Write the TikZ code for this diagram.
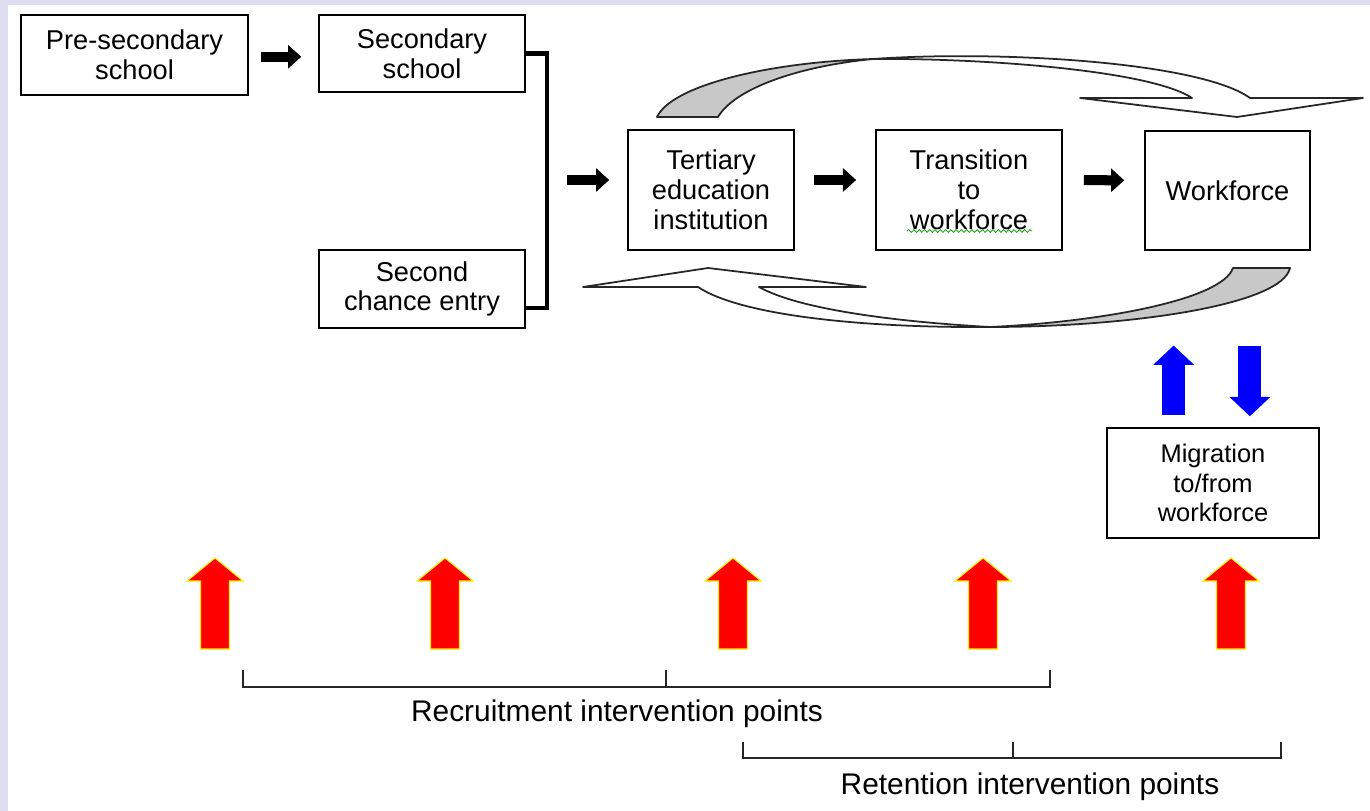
\documentclass[tikz,border=0pt]{standalone}
\usepackage{fontspec}
\setmainfont{Liberation Sans}
\usetikzlibrary{arrows.meta,decorations.pathmorphing}

\definecolor{pagebg}{RGB}{221,223,240}
\definecolor{ribbongrey}{RGB}{200,200,200}

\begin{document}
\begin{tikzpicture}[x=0.02cm, y=-0.02cm,
  box/.style={draw, line width=1pt, align=center, inner sep=0pt, font=\fontsize{15.5pt}{17pt}\selectfont},
  blk/.style={line width=5.7pt, -{Triangle[length=7.5pt, width=13pt]}},
  bluearr/.style={blue, line width=13pt, -{Triangle[length=11pt, width=22.7pt]}},
  redarr/.style={fill=red, draw=yellow, line width=0.6pt, line join=miter},
  ribbon/.style={draw=black!85, line width=1pt, line join=round},
  bracketline/.style={draw=black!85, line width=1.1pt},
  bracetext/.style={font=\fontsize{17pt}{20pt}\selectfont}]

  \useasboundingbox (0,0) rectangle (1370,811);
  \fill[pagebg] (0,0) rectangle (1370,811);
  \fill[white] (8,5) rectangle (1370,811);

  \node[box, minimum width=4.54cm, minimum height=1.6cm] (pre) at (134.5,55) {Pre-secondary\\school};
  \node[box, minimum width=4.12cm, minimum height=1.54cm] (sec) at (422,53.5) {Secondary\\school};
  \node[box, minimum width=4.12cm, minimum height=1.56cm] (chance) at (422,289) {Second\\chance entry};
  \node[box, minimum width=3.32cm, minimum height=2.4cm] (ter) at (711,190) {Tertiary\\education\\institution};
  \node[box, minimum width=3.72cm, minimum height=2.4cm] (tra) at (969,190) {Transition\\to\\workforce};
  \node[box, minimum width=3.3cm, minimum height=2.38cm] (work) at (1227.5,190.5) {Workforce};
  \node[box, minimum width=4.24cm, minimum height=2.2cm, font=\fontsize{14.5pt}{17pt}\selectfont] (mig) at (1213,483) {Migration\\to/from\\workforce};
  \coordinate (join) at (547,180);

  \draw[green!60!black, decorate, decoration={snake, amplitude=0.8pt, segment length=3pt}] (907,231) -- (1032,231);

  \draw[line width=2.3pt] (sec.east) -| (join) |- ([yshift=-10.8pt]chance.east);

  \draw[blk, shorten <=6.8pt, shorten >=9.6pt] ([yshift=-1pt]pre.east) -- ([yshift=-1pt]pre.east -| sec.west);
  \draw[blk, shorten <=11.3pt, shorten >=10.2pt] (join) -- (join -| ter.west);
  \draw[blk, shorten <=10.8pt, shorten >=10.8pt] ([yshift=5.7pt]ter.east) -- ([yshift=5.7pt]tra.west);
  \draw[blk, shorten <=11.9pt, shorten >=11.3pt] ([yshift=5.7pt]tra.east) -- ([yshift=5.7pt]work.west);

  \filldraw[ribbon, fill=ribbongrey] (657,117) .. controls (672,85) and (770,62) .. (873,59) .. controls (800,66) and (735,88) .. (718,117) -- cycle;
  \filldraw[ribbon, fill=white] (873,59) .. controls (1000,50) and (1200,62) .. (1250,98) -- (1363,98) -- (1237,117) -- (1080,98) -- (1192,98) .. controls (1150,70) and (980,58) .. cycle;

  \filldraw[ribbon, fill=ribbongrey] (1290,268) .. controls (1282,305) and (1130,327) .. (990,327) .. controls (1100,322) and (1222,300) .. (1233,268) -- cycle;
  \filldraw[ribbon, fill=white] (990,327) .. controls (860,328) and (740,315) .. (698,287) -- (583,287) -- (708,268) -- (866,287) -- (759,287) .. controls (800,310) and (900,322) .. cycle;

  \draw[bluearr, shorten <=6.8pt, shorten >=53.9pt] ([xshift=-22.4pt]mig.north) -- ([xshift=-22.4pt]mig.north |- work.south);
  \draw[bluearr, shorten <=53.9pt, shorten >=6.2pt] ([xshift=21pt]mig.north |- work.south) -- ([xshift=21pt]mig.north);

  \filldraw[redarr] (200.5,649) -- ++(0,-68) -- ++(-13.5,0) -- ++(28,-23) -- ++(28,23) -- ++(-13.5,0) -- ++(0,68) -- cycle;
  \filldraw[redarr] (430.5,649) -- ++(0,-68) -- ++(-13.5,0) -- ++(28,-23) -- ++(28,23) -- ++(-13.5,0) -- ++(0,68) -- cycle;
  \filldraw[redarr] (718.5,649) -- ++(0,-68) -- ++(-13.5,0) -- ++(28,-23) -- ++(28,23) -- ++(-13.5,0) -- ++(0,68) -- cycle;
  \filldraw[redarr] (968.5,649) -- ++(0,-68) -- ++(-13.5,0) -- ++(28,-23) -- ++(28,23) -- ++(-13.5,0) -- ++(0,68) -- cycle;
  \filldraw[redarr] (1216.5,649) -- ++(0,-68) -- ++(-13.5,0) -- ++(28,-23) -- ++(28,23) -- ++(-13.5,0) -- ++(0,68) -- cycle;

  \draw[bracketline] (243,670) -- (243,687) -- (1050,687) -- (1050,670);
  \draw[bracketline] (666,670) -- (666,687);
  \draw[bracketline] (743,742) -- (743,758) -- (1281,758) -- (1281,742);
  \draw[bracketline] (1013,742) -- (1013,758);

  \node[bracetext] (recruit) at (617,714) {Recruitment intervention points};
  \node[bracetext] (retain) at (1030,787) {Retention intervention points};
\end{tikzpicture}
\end{document}
